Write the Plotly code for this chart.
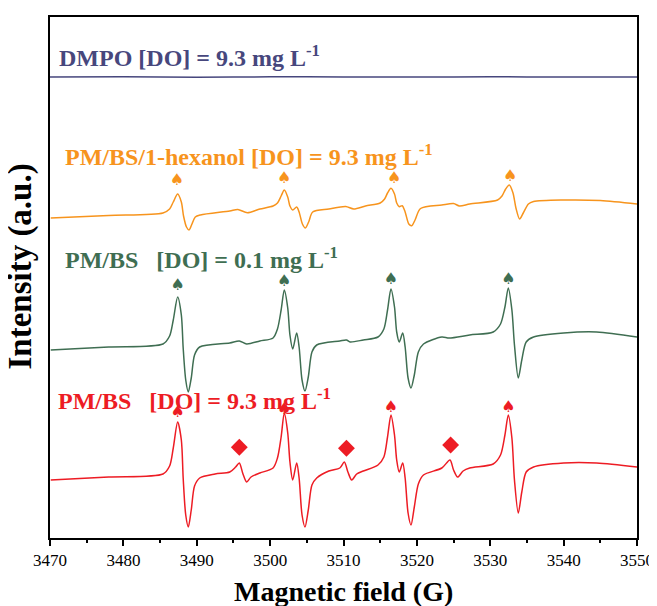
import plotly.graph_objects as go

# ---- data (field in G, intensity in a.u., spectra stacked) ----
red_field = [3470.1, 3478.0, 3485.4, 3486.3, 3486.8, 3487.4, 3487.9, 3488.15, 3488.5, 3488.85,
             3489.25, 3489.7, 3490.4, 3492.5, 3494.5, 3495.3, 3495.8, 3496.3, 3496.8, 3497.4,
             3498.6, 3500.4, 3501.0, 3501.5, 3501.93, 3502.4, 3502.7, 3503.08, 3503.62, 3503.95,
             3504.35, 3504.75, 3505.2, 3505.7, 3506.35, 3508.0, 3509.5, 3510.11, 3510.6, 3511.12,
             3511.8, 3512.7, 3514.7, 3515.5, 3516.0, 3516.47, 3516.95, 3517.25, 3517.6, 3518.07,
             3518.4, 3518.8, 3519.2, 3519.65, 3520.2, 3520.9, 3523.4, 3524.51, 3525.0, 3525.56,
             3526.3, 3527.2, 3530.4, 3531.4, 3532.0, 3532.46, 3532.95, 3533.3, 3533.82, 3534.3,
             3534.9, 3535.9, 3540.0, 3544.5, 3550.0]
red_int = [60, 63, 66, 74, 92, 118, 100, 62, 25, 13,
           30, 54, 62, 66, 68, 73, 77, 66, 58, 63,
           67, 72, 82, 103, 127, 107, 78, 60, 77, 62,
           25, 13, 30, 55, 62, 69, 72, 78, 68, 60,
           66, 69, 75, 83, 103, 125, 105, 80, 68, 77,
           62, 27, 15, 33, 56, 65, 72, 80, 70, 63,
           69, 72, 76, 85, 105, 125, 102, 60, 27, 48,
           68, 73, 77, 77, 73]

green_field = [3470.1, 3478.0, 3485.4, 3486.3, 3486.8, 3487.4, 3487.9, 3488.15, 3488.5, 3488.85,
               3489.25, 3489.7, 3490.4, 3494.5, 3495.8, 3496.8, 3498.6, 3500.4, 3501.0, 3501.5,
               3501.93, 3502.4, 3502.7, 3503.08, 3503.62, 3503.95, 3504.35, 3504.75, 3505.2, 3505.7,
               3506.35, 3509.5, 3510.4, 3510.9, 3512.7, 3514.7, 3515.5, 3516.0, 3516.47, 3516.95,
               3517.25, 3517.6, 3518.07, 3518.4, 3518.8, 3519.2, 3519.65, 3520.2, 3520.9, 3523.4,
               3524.4, 3527.2, 3530.4, 3531.4, 3532.0, 3532.46, 3532.95, 3533.3, 3533.82, 3534.3,
               3534.9, 3535.9, 3540.0, 3544.5, 3550.0]
green_int = [190, 193, 196, 204, 220, 243, 225, 192, 160, 148,
             162, 185, 193, 197, 199, 196, 199, 202, 211, 230,
             250, 232, 205, 191, 207, 193, 160, 149, 163, 188,
             195, 199, 200, 198, 200, 203, 211, 230, 251, 233,
             208, 198, 207, 193, 162, 152, 165, 188, 196, 203,
             202, 205, 208, 216, 233, 252, 230, 195, 162, 180,
             198, 203, 207, 208, 203]

orange_field = [3470.1, 3478.0, 3485.4, 3486.3, 3486.8, 3487.4, 3487.9, 3488.2, 3488.6, 3488.95,
                3489.35, 3489.8, 3490.5, 3494.5, 3495.6, 3496.9, 3498.6, 3500.4, 3501.0, 3501.5,
                3501.93, 3502.4, 3502.7, 3503.08, 3503.62, 3503.95, 3504.4, 3504.8, 3505.25, 3505.8,
                3508.0, 3510.3, 3511.4, 3513.0, 3515.0, 3515.6, 3516.0, 3516.47, 3516.95, 3517.25,
                3517.6, 3518.0, 3518.4, 3518.9, 3519.3, 3519.75, 3520.5, 3523.4, 3525.0, 3525.8,
                3527.2, 3531.0, 3531.6, 3532.1, 3532.6, 3533.1, 3533.5, 3534.0, 3534.5, 3535.2,
                3535.9, 3540.0, 3545.0, 3550.0]
orange_int = [322, 324.5, 327, 331, 338, 346, 338, 324, 313, 310,
              316, 323, 325, 329, 330.5, 327.3, 331, 334, 337, 344,
              350, 343, 334, 330, 333, 328, 316, 312, 318, 328,
              331, 333.5, 331, 334, 337, 341, 347, 351.7, 346, 337,
              333.3, 334.3, 328, 316, 314.3, 320, 331.5, 335, 336.5, 334,
              336, 340, 344, 351, 355, 347, 332, 321, 327, 336,
              338.5, 340, 339.5, 336]

dmpo_field = [3470, 3480, 3490, 3500, 3510, 3520, 3530, 3540, 3550]
dmpo_int = [463, 463.3, 462.8, 463.2, 463, 462.9, 463.2, 463, 463]

# spade / diamond markers
red_spade_field = [3487.4, 3501.93, 3516.47, 3532.46]
red_spade_int = [127, 130, 132, 132]
green_spade_field = [3487.4, 3501.93, 3516.47, 3532.46]
green_spade_int = [254, 258, 260, 260]
orange_spade_field = [3487.3, 3501.9, 3516.9, 3532.7]
orange_spade_int = [359, 361, 361, 363]
red_diamond_field = [3495.8, 3510.4, 3524.6]
red_diamond_int = [92.7, 91.7, 95]

labels = [
    ("DMPO [DO] = 9.3 mg L<sup>-1</sup>", 3470.95, 484, "#47477d"),
    ("PM/BS/1-hexanol [DO] = 9.3 mg L<sup>-1</sup>", 3471.8, 385, "#f7941d"),
    ("PM/BS&nbsp;&nbsp;&nbsp;[DO] = 0.1 mg L<sup>-1</sup>", 3471.8, 282, "#3f6e52"),
    ("PM/BS&nbsp;&nbsp;&nbsp;[DO] = 9.3 mg L<sup>-1</sup>", 3470.8, 141, "#ed1c24"),
]

RED = "#ed1c24"
GREEN = "#3f6e52"
ORANGE = "#f7941d"
NAVY = "#47477d"
SERIF = "Liberation Serif, Times New Roman, serif"

fig = go.Figure()
for fx, iy, col in [(dmpo_field, dmpo_int, NAVY), (orange_field, orange_int, ORANGE),
                    (green_field, green_int, GREEN), (red_field, red_int, RED)]:
    fig.add_trace(go.Scatter(x=fx, y=iy, mode="lines",
                             line=dict(color=col, width=1.5, shape="spline", smoothing=0.8),
                             showlegend=False, hoverinfo="skip"))

for fx, iy, col in [(orange_spade_field, orange_spade_int, ORANGE),
                    (green_spade_field, green_spade_int, GREEN),
                    (red_spade_field, red_spade_int, RED)]:
    fig.add_trace(go.Scatter(x=fx, y=iy, mode="text", text=["♠"] * len(fx),
                             textfont=dict(family="DejaVu Sans", size=16, color=col),
                             textposition="middle center", showlegend=False, hoverinfo="skip"))

fig.add_trace(go.Scatter(x=red_diamond_field, y=red_diamond_int, mode="markers",
                         marker=dict(symbol="diamond", size=13, color=RED),
                         showlegend=False, hoverinfo="skip"))

for txt, lx, ly, col in labels:
    fig.add_annotation(x=lx, y=ly, xref="x", yref="y", text="<b>" + txt + "</b>",
                       showarrow=False, xanchor="left", yanchor="middle",
                       font=dict(family=SERIF, size=24, color=col))

fig.add_annotation(x=0.5, y=0, xref="paper", yref="paper", yshift=-53,
                   text="<b>Magnetic field (G)</b>", showarrow=False,
                   xanchor="center", yanchor="middle",
                   font=dict(family=SERIF, size=28, color="black"))
fig.add_annotation(x=0, y=0.521, xref="paper", yref="paper", xshift=-29,
                   text="<b>Intensity (a.u.)</b>", showarrow=False, textangle=-90,
                   xanchor="center", yanchor="middle",
                   font=dict(family=SERIF, size=33, color="black"))

# page body adds an 8 px offset; figure sized so the plot lands where the reference has it
fig.update_layout(
    width=649, height=598,
    margin=dict(l=42, r=20, t=9, b=68, autoexpand=False),
    paper_bgcolor="white", plot_bgcolor="white",
    xaxis=dict(range=[3470, 3550], dtick=10, tick0=3470, ticks="outside", ticklen=6,
               tickwidth=1.5, tickcolor="black", showline=True, linewidth=2,
               linecolor="black", mirror=True, showgrid=False, zeroline=False,
               automargin=False, ticklabeloverflow="allow",
               tickfont=dict(family=SERIF, size=17, color="black"),
               minor=dict(dtick=5, ticks="outside", ticklen=3, tickwidth=1.5,
                          tickcolor="black", showgrid=False)),
    yaxis=dict(range=[2, 523], showticklabels=False, ticks="", showline=True,
               linewidth=2, linecolor="black", mirror=True, showgrid=False,
               zeroline=False, automargin=False),
)

fig.write_html("out.html")
